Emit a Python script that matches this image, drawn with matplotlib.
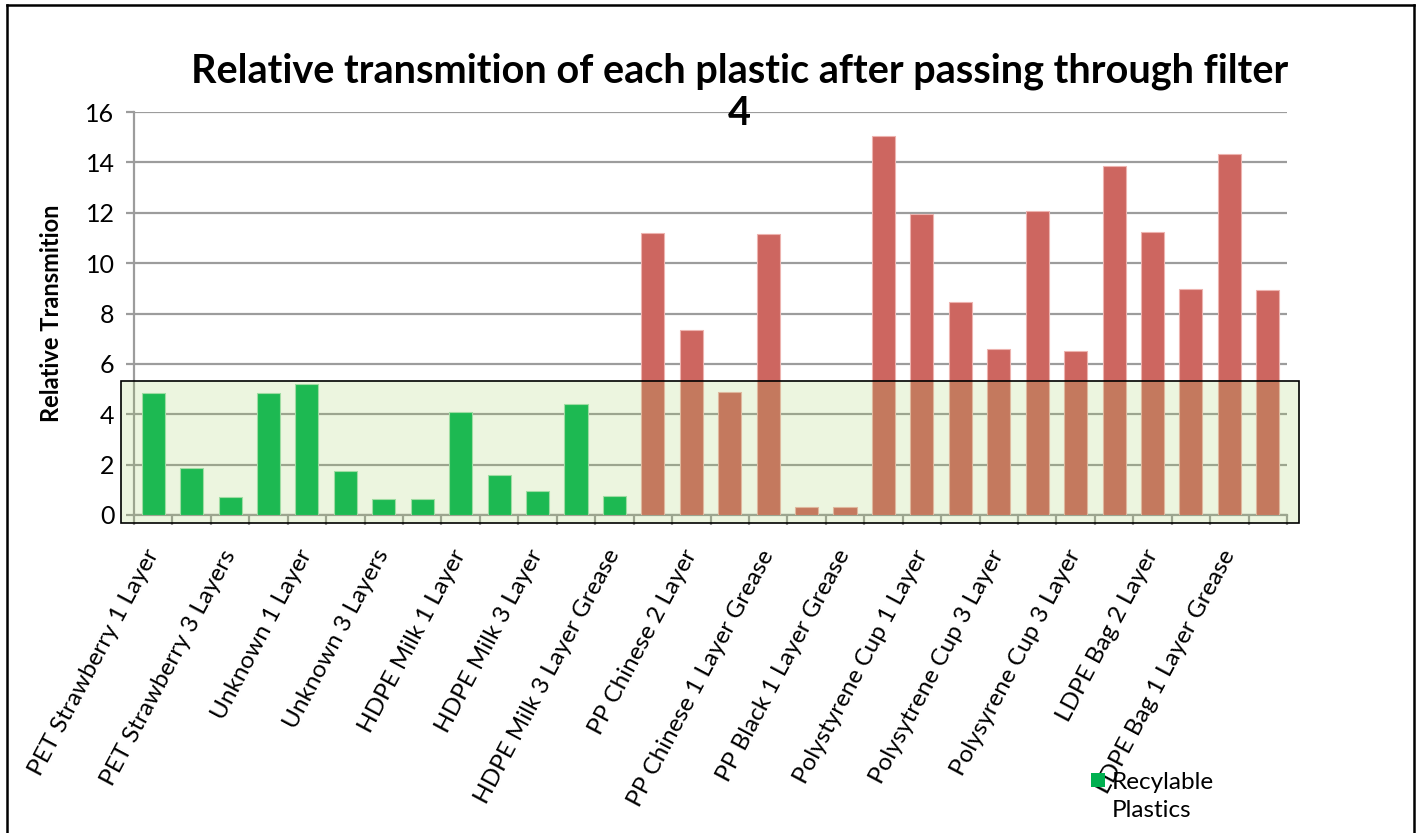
import matplotlib
matplotlib.use("Agg")
import matplotlib.pyplot as plt
from matplotlib.patches import Rectangle
from matplotlib.lines import Line2D

# Relative transmission per sample (30 samples, labelled every other one)
recyclable_values = [4.84, 1.85, 0.72, 4.84, 5.19, 1.75, 0.62, 0.62, 4.09, 1.58, 0.94, 4.42, 0.77]
other_values = [11.2, 7.35, 4.89, 11.14, 0.30, 0.30, 15.03, 11.97, 8.45, 6.58,
                12.07, 6.52, 13.87, 11.22, 8.97, 14.34, 8.94]
tick_labels = [
    "PET Strawberry 1 Layer", "PET Strawberry 3 Layers", "Unknown 1 Layer",
    "Unknown 3 Layers", "HDPE Milk 1 Layer", "HDPE Milk 3 Layer",
    "HDPE Milk 3 Layer Grease", "PP Chinese 2 Layer", "PP Chinese 1 Layer Grease",
    "PP Black 1 Layer Grease", "Polystyrene Cup 1 Layer", "Polysytrene Cup 3 Layer",
    "Polysyrene Cup 3 Layer", "LDPE Bag 2 Layer", "LDPE Bag 1 Layer Grease",
]
recyclable_limit = 5.32

plt.rcParams["font.family"] = ["Lato", "DejaVu Sans"]

fig = plt.figure(figsize=(14.19, 8.33), dpi=100)
ax = fig.add_axes([134 / 1419, 1 - 515 / 833, (1287 - 134) / 1419, (515 - 112) / 833])

n_rec = len(recyclable_values)
values = recyclable_values + other_values
x = list(range(len(values)))
colors = ["#00B552"] * n_rec + ["#CD6660"] * len(other_values)
edges = ["#9FE0B5"] * n_rec + ["#EDB3AF"] * len(other_values)
ax.bar(x, values, width=0.6, color=colors, edgecolor=edges, linewidth=0.8, zorder=3)

ax.set_xlim(-0.5, len(values) - 0.5)
ax.set_ylim(0, 16)
ax.set_yticks(range(0, 17, 2))
ax.yaxis.grid(True, color="#9C9C9C", linewidth=1.6, zorder=1)
ax.set_axisbelow(True)

for side in ["top", "right"]:
    ax.spines[side].set_visible(False)
ax.spines["left"].set_color("#9C9C9C")
ax.spines["bottom"].set_color("#9C9C9C")
ax.spines["left"].set_linewidth(1.6)
ax.spines["bottom"].set_linewidth(1.6)

ax.tick_params(axis="y", length=6, width=1.6, color="#9C9C9C", labelsize=18, pad=8)
ax.set_xticks(x[::2])
ax.set_xticklabels(tick_labels, rotation=62, ha="right", va="center",
                   rotation_mode="anchor", fontsize=17.5)
ax.tick_params(axis="x", length=0, pad=26)
# category boundary tick marks
ax.set_xticks([i - 0.5 for i in range(len(values) + 1)], minor=True)
ax.tick_params(axis="x", which="minor", length=7, width=1.6, color="#9C9C9C")

ax.set_ylabel("Relative Transmition", fontsize=17, fontweight="bold", labelpad=16)

# shaded band marking the recyclable range
band = Rectangle((-0.84, -0.32), 30.65, recyclable_limit + 0.32,
                 facecolor="#9FCF57", alpha=0.19, edgecolor="none",
                 zorder=4, clip_on=False)
ax.add_patch(band)
band_edge = Rectangle((-0.84, -0.32), 30.65, recyclable_limit + 0.32,
                      facecolor="none", edgecolor="black", linewidth=1.2,
                      zorder=5, clip_on=False)
ax.add_patch(band_edge)

fig.text(0.521, 0.937, "Relative transmition of each plastic after passing through filter\n4",
         ha="center", va="top", fontsize=28.5, fontweight="bold", linespacing=1.18)

# legend
fig.patches.append(Rectangle((1091 / 1419, 1 - 787 / 833), 14 / 1419, 14 / 833,
                             transform=fig.transFigure, facecolor="#00B050",
                             edgecolor="none"))
fig.text(1112 / 1419, 1 - 772 / 833, "Recylable\nPlastics", ha="left", va="top",
         fontsize=17.5, linespacing=1.4)

# outer frame
for (x0, y0, x1, y1) in [(7, 5, 1414, 5), (7, 5, 7, 833), (1414, 5, 1414, 833)]:
    fig.lines.append(Line2D([x0 / 1419, x1 / 1419], [1 - y0 / 833, 1 - y1 / 833],
                            transform=fig.transFigure, color="black", linewidth=1.8))

fig.savefig("out.png", dpi=100)
